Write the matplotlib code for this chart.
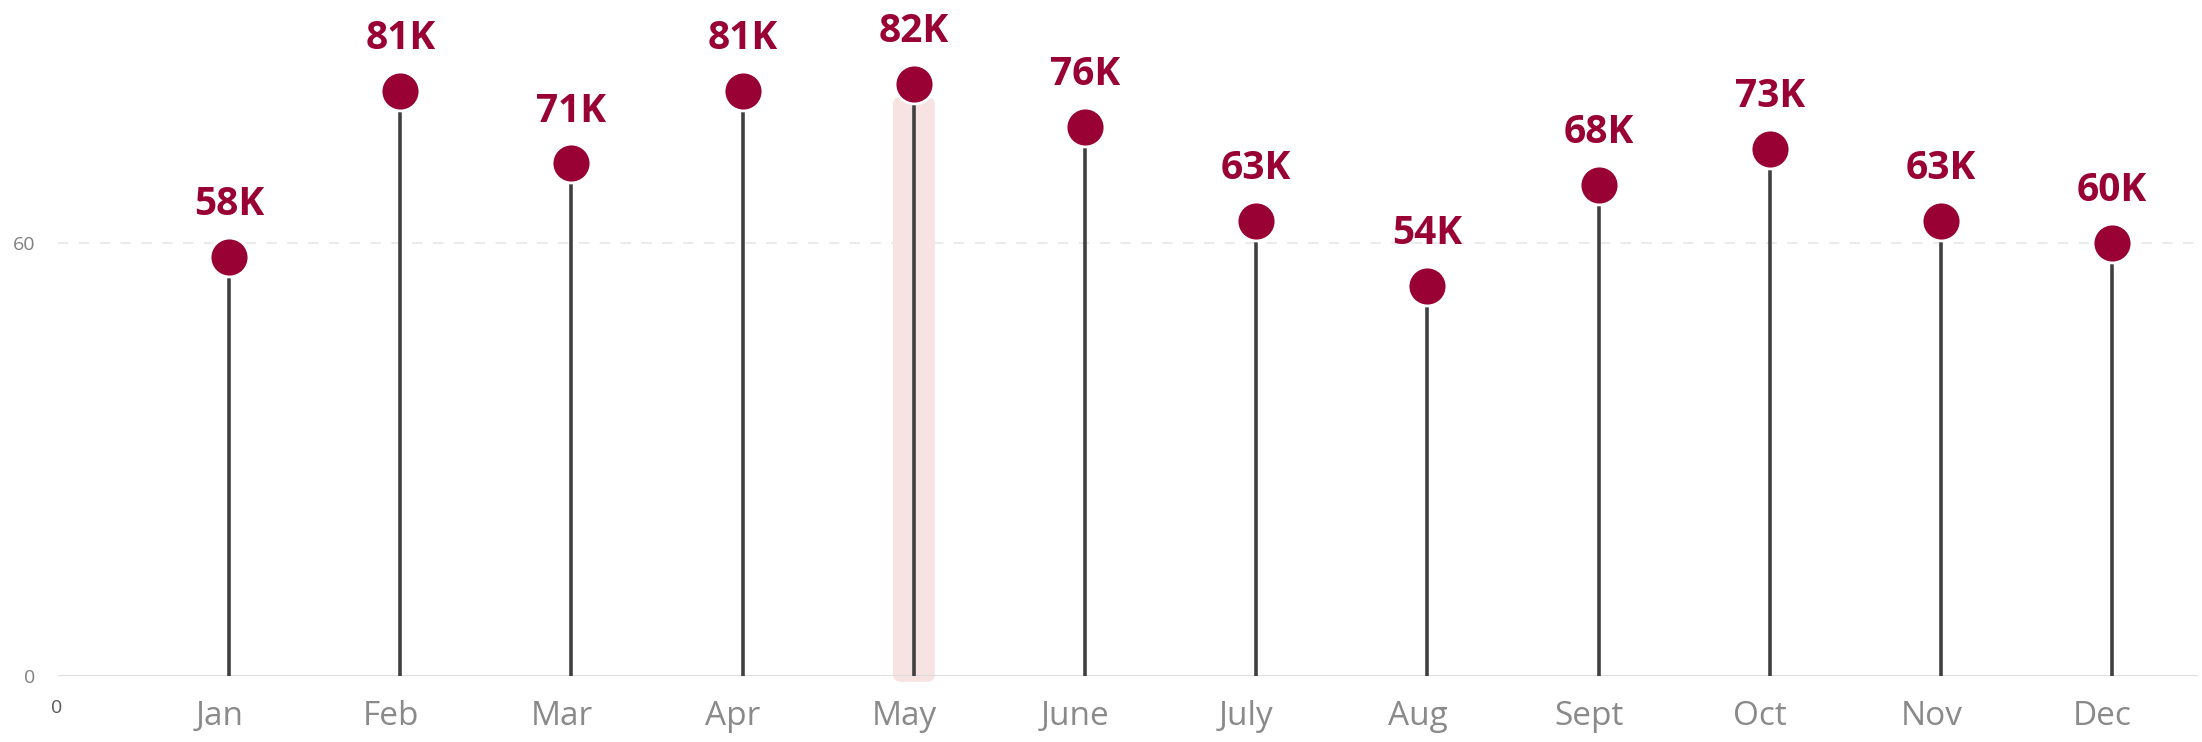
import matplotlib
matplotlib.use("Agg")
import matplotlib.pyplot as plt
import matplotlib.transforms as mtransforms
from matplotlib.patches import FancyBboxPatch

# data
months = ["Jan", "Feb", "Mar", "Apr", "May", "June", "July", "Aug", "Sept", "Oct", "Nov", "Dec"]
values = [58, 81, 71, 81, 82, 76, 63, 54, 68, 73, 63, 60]
labels = ["58K", "81K", "71K", "81K", "82K", "76K", "63K", "54K", "68K", "73K", "63K", "60K"]
highlight = "May"
yticks = [0, 60]

plt.rcParams["font.family"] = ["Open Sans", "DejaVu Sans"]

red = "#990033"
stem_col = "#404040"

fig = plt.figure(figsize=(22.02, 7.42), dpi=100)
ax = fig.add_axes([0.0263, 0.0889, 0.9718, 0.9111])
ax.set_xlim(-1.0, 11.5)
ax.set_ylim(0, 93.6)

x = list(range(len(months)))

# highlight band behind May
hi = months.index(highlight)
band_w = 0.245
band = FancyBboxPatch((hi - band_w / 2, -0.8), band_w, 81.0,
                      boxstyle="round,pad=0,rounding_size=0.047",
                      mutation_aspect=23.6, facecolor="#f8e3e3",
                      edgecolor="none", zorder=1, clip_on=False)
ax.add_patch(band)

# grid line at 60 and baseline
ax.axhline(60, color="#ebebeb", lw=1.5, ls=(0, (5, 5)), zorder=0)
ax.axhline(0, color="#d9d9d9", lw=2, zorder=2)

# stems and dots
ax.vlines(x, 0, values, color=stem_col, lw=2.6, zorder=3)
ax.plot(x, values, "o", ms=28, color=red, mec="white", mew=2, zorder=4)

for xi, v, lab in zip(x, values, labels):
    ax.annotate(lab, (xi, v), xytext=(0, 30), textcoords="offset points",
                ha="center", va="baseline", fontsize=28, fontweight="bold",
                color=red, zorder=5)

# axes styling
for s in ax.spines.values():
    s.set_visible(False)
ax.set_yticks(yticks)
ax.set_yticklabels([str(t) for t in yticks])
ax.tick_params(axis="y", length=0, pad=16, labelsize=14, labelcolor="#808080")
ax.set_xticks(x)
ax.set_xticklabels(months)
ax.tick_params(axis="x", length=0, pad=17, labelsize=24, labelcolor="#8a8a8a")
shift = mtransforms.ScaledTranslation(-7 / 72, 0, fig.dpi_scale_trans)
for t in ax.get_xticklabels():
    t.set_transform(t.get_transform() + shift)

# stray zero label under the axis origin
fig.text(57 / 2202, 1 - 708 / 742, "0", ha="center", va="center",
         fontsize=14, color="#595959")

fig.savefig("out.png", dpi=100)
